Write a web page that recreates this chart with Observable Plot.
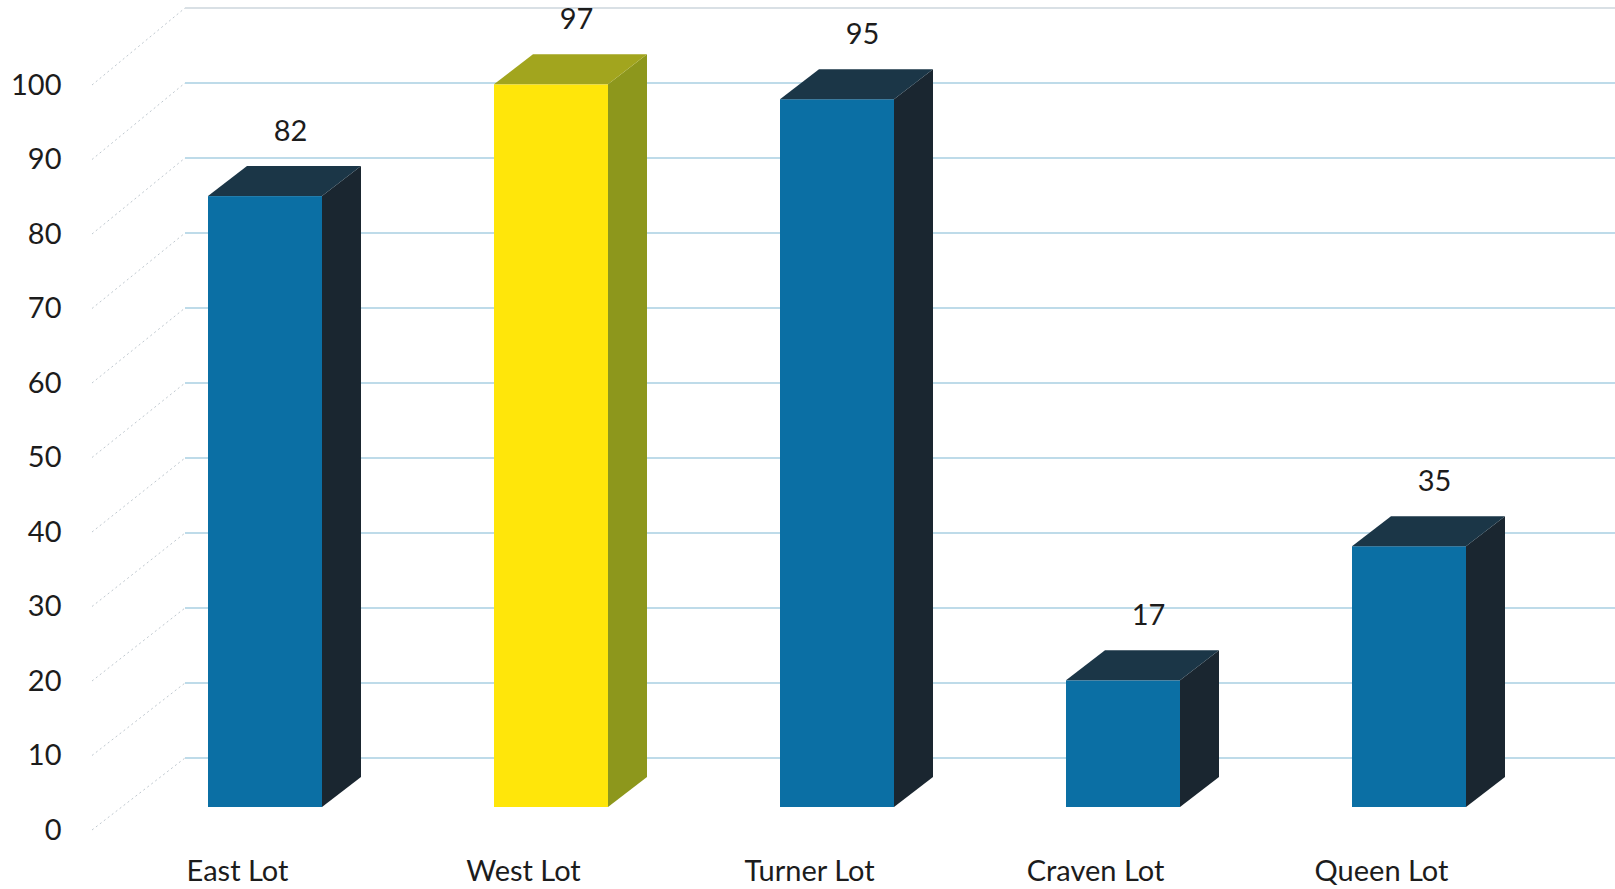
<!DOCTYPE html>
<html>
<head>
<meta charset="utf-8">
<script src="https://cdn.jsdelivr.net/npm/d3@7"></script>
<script src="https://cdn.jsdelivr.net/npm/@observablehq/plot@0.6"></script>
<style>
  html, body { margin: 0; padding: 0; background: #ffffff; }
  #chart svg { display: block; }
</style>
</head>
<body>
<div id="chart"></div>
<script>
// Parking lot counts
const lots = ["East Lot", "West Lot", "Turner Lot", "Craven Lot", "Queen Lot"];
const counts = [82, 97, 95, 17, 35];
const highlighted = ["West Lot"];
const yTicks = [0, 10, 20, 30, 40, 50, 60, 70, 80, 90, 100];

const data = lots.map((lot, i) => ({lot, count: counts[i]}));

// Oblique "3-D" look: pixel offsets from the axis (front) plane
const FRONT = [28, -23];   // front faces of the columns
const DEPTH = [39, -30];   // column depth
const WALL = [93, -72];    // back wall
const WALL_STRETCH = 0.0067; // back wall is drawn slightly taller
const WALL_X0 = 22;        // where the side wall starts, from the left margin

const palette = {
  blue:   {front: "#0b6fa4", top: "#1b3647", side: "#1a2630"},
  yellow: {front: "#ffe60a", top: "#a2a51e", side: "#8d971c"}
};
const tone = (lot) => highlighted.includes(lot) ? palette.yellow : palette.blue;

const fontFamily = "Lato, 'Open Sans', 'DejaVu Sans', sans-serif";
const fontSize = 29;

// Side wall (dotted diagonals) and back wall gridlines
function walls(index, {y}, values, {marginLeft, width}) {
  const g = d3.create("svg:g").attr("fill", "none");
  const wallY = (t) => y(t) + WALL[1] - (y(0) - y(t)) * WALL_STRETCH;
  for (const t of yTicks) {
    const x0 = marginLeft + WALL_X0, y0 = y(t);
    const xw = x0 + WALL[0], yw = wallY(t);
    g.append("path")
      .attr("d", `M${x0},${y0}L${xw},${yw}`)
      .attr("stroke", "#bfc8cf")
      .attr("stroke-width", 1)
      .attr("stroke-dasharray", "2,3");
    g.append("path")
      .attr("d", `M${xw},${yw}H${width}`)
      .attr("stroke", t === 100 ? "#cdd6dc" : "#a9cfe2")
      .attr("stroke-width", 1.3);
  }
  return g.node();
}

// Side and top faces of each column
function columnDepth(index, {x, y}) {
  const bw = x.bandwidth();
  const [dx, dy] = DEPTH;
  const g = d3.create("svg:g");
  for (const d of data) {
    const x0 = x(d.lot) + FRONT[0], x1 = x0 + bw;
    const yt = y(d.count) + FRONT[1], yb = y(0) + FRONT[1];
    const c = tone(d.lot);
    g.append("path")
      .attr("fill", c.side)
      .attr("d", `M${x1},${yb}L${x1 + dx},${yb + dy}L${x1 + dx},${yt + dy}L${x1},${yt}Z`);
    g.append("path")
      .attr("fill", c.top)
      .attr("d", `M${x0},${yt}L${x0 + dx},${yt + dy}L${x1 + dx},${yt + dy}L${x1},${yt}Z`);
  }
  return g.node();
}

const chart = Plot.plot({
  width: 1615,
  height: 889,
  marginLeft: 70,
  marginRight: 66,
  marginTop: 85,
  marginBottom: 59,
  style: {fontFamily, fontSize: `${fontSize}px`, color: "#1c1c1c", background: "#ffffff", overflow: "visible"},
  x: {domain: lots, paddingInner: 0.6, paddingOuter: 0.377, label: null},
  y: {domain: [0, 100], label: null},
  color: {domain: lots, range: lots.map((l) => tone(l).front)},
  marks: [
    walls,
    // front faces
    Plot.barY(data, {x: "lot", y: "count", fill: "lot", dx: FRONT[0], dy: FRONT[1]}),
    columnDepth,
    // value labels
    Plot.text(data, {
      x: "lot", y: "count", text: (d) => String(d.count),
      dx: 53, dy: -88, fontSize, fill: "#1c1c1c"
    }),
    Plot.axisY(yTicks, {tickSize: 0, tickPadding: 9, fontSize, label: null}),
    Plot.axisX({tickSize: 0, tickPadding: 30, fontSize, label: null})
  ]
});

document.getElementById("chart").append(chart);
</script>
</body>
</html>
